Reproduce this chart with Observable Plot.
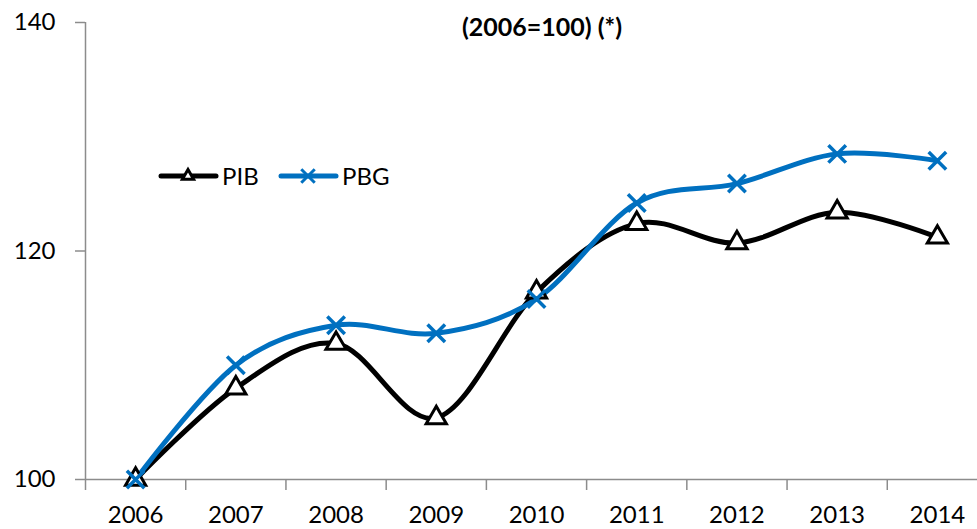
<!DOCTYPE html>
<html>
<head>
<meta charset="utf-8">
<script src="https://cdn.jsdelivr.net/npm/d3@7"></script>
<script src="https://cdn.jsdelivr.net/npm/@observablehq/plot@0.6"></script>
<style>
  html, body { margin: 0; padding: 0; background: #fff; overflow: hidden; }
  #wrap { position: relative; width: 977px; height: 529px; font-family: Lato, "Open Sans", sans-serif; }
  #title { position: absolute; left: 0; width: 1084px; top: 11px; line-height: 30px; text-align: center; font-weight: bold; font-size: 25px; color: #000; }
  .item { position: absolute; top: 162px; display: flex; align-items: center; font-size: 24px; line-height: 28px; }
  .item svg { display: block; }
</style>
</head>
<body>
<div id="wrap">
  <div id="chart"></div>
  <div id="title">(2006=100) (*)</div>
</div>
<script>
const years = [2006, 2007, 2008, 2009, 2010, 2011, 2012, 2013, 2014];
const pib = [100, 108.0, 111.9, 105.4, 116.4, 122.4, 120.7, 123.4, 121.2];
const pbg = [100, 110.0, 113.5, 112.8, 115.8, 124.2, 125.9, 128.5, 127.9];
const yTicks = [100, 120, 140];
const seriesNames = ["PIB", "PBG"];
const colors = ["#000000", "#0070C0"];

const boundaries = years.map(y => y - 0.5).concat([years[years.length - 1] + 0.5]);
const xDomain = [boundaries[0], boundaries[boundaries.length - 1]];
const yDomain = [yTicks[0], yTicks[yTicks.length - 1]];

const rows = [];
years.forEach((y, i) => {
  rows.push({year: y, value: pib[i], series: seriesNames[0]});
  rows.push({year: y, value: pbg[i], series: seriesNames[1]});
});
const pibRows = rows.filter(d => d.series === "PIB");
const pbgRows = rows.filter(d => d.series === "PBG");

const gray = "#8c8c8c";

const chart = Plot.plot({
  width: 977,
  height: 529,
  marginLeft: 85,
  marginTop: 22,
  marginBottom: 50,
  marginRight: 0,
  style: {fontFamily: "Lato, 'Open Sans', sans-serif", fontSize: "24px", color: "#000", background: "#fff", overflow: "visible"},
  x: {domain: xDomain, range: [85, 987]},
  y: {domain: yDomain},
  marks: [
    Plot.ruleX([xDomain[0]], {y1: yDomain[0], y2: yDomain[1], stroke: gray, strokeWidth: 1.5}),
    Plot.ruleY([yDomain[0]], {x1: xDomain[0], x2: xDomain[1], stroke: gray, strokeWidth: 1.5}),
    Plot.axisY({ticks: yTicks, tickSize: 10, tickPadding: 20, stroke: gray, strokeWidth: 1.5, label: null, fill: "#000", tickFormat: d => String(d)}),
    Plot.axisX({ticks: boundaries, tickSize: 11, tickFormat: () => "", stroke: gray, strokeWidth: 1.5, label: null}),
    Plot.axisX({ticks: years, tickSize: 0, tickPadding: 26, tickFormat: d => String(d), label: null, fill: "#000"}),
    Plot.line(pibRows, {x: "year", y: "value", stroke: colors[0], strokeWidth: 5, curve: "cardinal", tension: 0}),
    Plot.line(pbgRows, {x: "year", y: "value", stroke: colors[1], strokeWidth: 5, curve: "cardinal", tension: 0}),
    Plot.dot(pibRows, {x: "year", y: "value", symbol: "triangle", r: 7.5, fill: "#fff", stroke: colors[0], strokeWidth: 3}),
    Plot.dot(pbgRows, {x: "year", y: "value", symbol: "times", r: 8, stroke: colors[1], strokeWidth: 3.5})
  ]
});
document.getElementById("chart").appendChild(chart);

// legend
const wrap = document.getElementById("wrap");
const lefts = [157, 277];
seriesNames.forEach((name, i) => {
  const item = document.createElement("div");
  item.className = "item";
  item.style.left = lefts[i] + "px";
  const sw = d3.create("svg").attr("width", 62).attr("height", 28);
  sw.append("line").attr("x1", 4).attr("x2", 59).attr("y1", 14).attr("y2", 14)
    .attr("stroke", colors[i]).attr("stroke-width", 5).attr("stroke-linecap", "round");
  const sym = i === 0 ? d3.symbolTriangle2 : d3.symbolTimes;
  sw.append("path").attr("d", d3.symbol(sym, i === 0 ? 90 : 120)())
    .attr("transform", "translate(31,14)")
    .attr("fill", i === 0 ? "#fff" : "none").attr("stroke", colors[i]).attr("stroke-width", 3);
  item.appendChild(sw.node());
  const t = document.createElement("span");
  t.textContent = name;
  t.style.marginLeft = "3px";
  item.appendChild(t);
  wrap.appendChild(item);
});
</script>
</body>
</html>
